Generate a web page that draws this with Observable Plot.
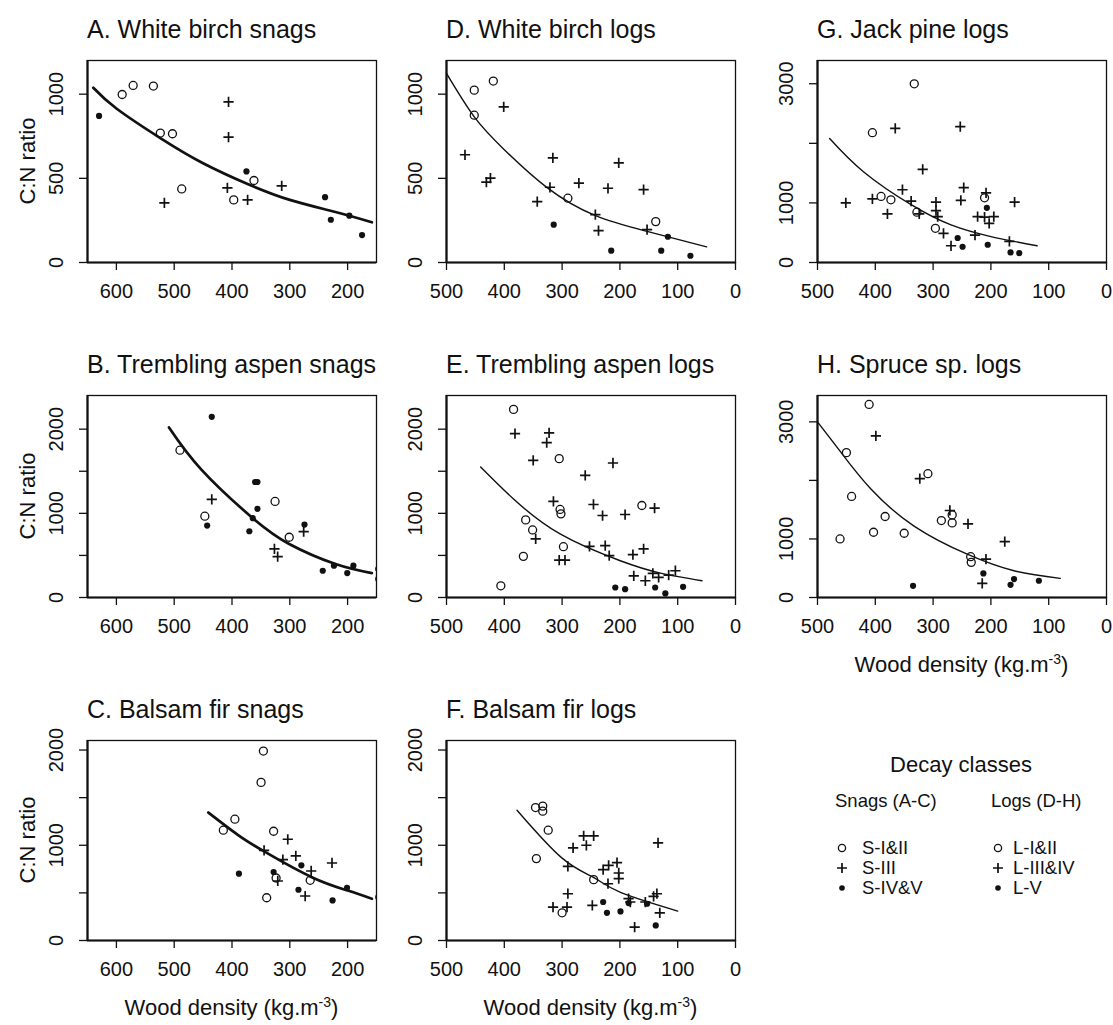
<!DOCTYPE html>
<html><head><meta charset="utf-8">
<script src="https://cdn.jsdelivr.net/npm/d3@7"></script>
<script src="https://cdn.jsdelivr.net/npm/@observablehq/plot@0.6"></script>
<style>
body{margin:0;background:#fff;}
#root{position:relative;width:1113px;height:1025px;background:#fff;font-family:"Liberation Sans",Arial,sans-serif;color:#111;overflow:hidden}
.lbl{position:absolute;white-space:nowrap;line-height:1;}
.panel{position:absolute;}
</style></head><body><div id="root"></div>
<script>
// ---- Data: [wood density (kg/m3), C:N ratio] ----
// A. White birch snags
const A_open = [[590,998],[571,1052],[536,1048],[524,769],[503,765],[487,437],[397,372],[362,487]];
const A_plus = [[517,354],[406,954],[406,745],[408,443],[373,372],[314,455]];
const A_fill = [[630,871],[375,541],[239,388],[229,254],[197,278],[175,163]];
const A_fit  = [[640,1038],[600,915],[522,735],[450,590],[372,465],[300,372],[221,300],[158,239]];
// B. Trembling aspen snags
const B_open = [[490,1750],[447,966],[325.5,1141],[301,716]];
const B_plus = [[435,1165],[326.6,577],[321,485],[276,783]];
const B_fill = [[435,2147],[443,855],[360,1372],[356,1372],[356,1054],[364,942],[370,787],[274.6,867],[243,318],[223.6,378],[200.6,290],[190,378],[147,340],[147,220]];
const B_fit  = [[509,2020],[453,1520],[366,954],[301,636],[221,398],[158,290]];
// C. Balsam fir snags
const C_open = [[345.7,1989],[349.7,1660],[395,1274],[415,1158],[328,1147],[323.7,656],[264.7,632],[340,449]];
const C_plus = [[303.5,1063],[344.5,947],[312,849],[289.6,888],[263,730],[227,814],[320.8,625],[273.4,467]];
const C_fill = [[280,789],[388,702],[328,719],[285,533],[226,421],[201,554],[147,456]];
const C_fit  = [[441,1344],[390,1110],[342.8,930],[262,665],[200,525],[158,439]];
// D. White birch logs
const D_open = [[452,1024],[452,875],[419,1078],[290,382],[138,243]];
const D_plus = [[468,640],[431,477],[424,501],[401,924],[343,362],[316,622],[321,447],[271,471],[242.5,284],[237,189],[220.6,441],[202,592],[159,433],[153,195]];
const D_fill = [[314.5,225],[215,70],[117,153],[128.5,70],[78,40]];
const D_fit  = [[500,1123],[452,865],[400,670],[326,445],[242,278],[153,185],[50,93]];
// E. Trembling aspen logs
const E_open = [[384,2235],[305,1650],[303.5,1046],[302,994],[162,1093],[363,922],[351,803],[367,489],[297.7,604],[406,139]];
const E_plus = [[381.5,1948],[322.5,1956],[326.6,1841],[350,1630],[260,1451],[212,1598],[315,1141],[245.7,1105],[230,974],[191,986],[140,1062],[345.7,696],[305,445],[295,445],[252.6,608],[225.4,616],[218.5,497],[177.5,509],[159,577],[176,258],[156,199],[143,286],[133,239],[115.6,266],[104,318]];
const E_fill = [[208,119],[191,99],[139,119],[121.4,48],[90.7,127]];
const E_fit  = [[441,1551],[384,1170],[303.5,755],[199.4,437],[130,290],[58,199]];
// F. Balsam fir logs
const F_open = [[346,1396],[333.5,1411],[333.5,1358],[324,1158],[344.5,860],[300,291],[245.4,639]];
const F_plus = [[290,779],[281,972],[258,1000],[262.7,1098],[245.4,1098],[290,491],[315.7,351],[291.5,351],[229,744],[219.5,789],[205,818],[220.6,596],[202,709],[202,649],[247.7,368],[185,439],[182,404],[174.5,140],[156,404],[141.7,463],[136,491],[134,1025],[131,291]];
const F_fill = [[229,404],[222.4,291],[199,305],[185,393],[153,386],[138,158]];
const F_fit  = [[378,1368],[300,865],[245,660],[199,505],[100,309]];
// G. Jack pine logs
const G_open = [[405,2178],[332.6,2999],[390,1109],[373,1052],[328,844],[296,574],[211,1086]];
const G_plus = [[451,1002],[365.5,2251],[253,2279],[318,1564],[353,1221],[405,1069],[379,816],[338,1030],[324,816],[295,1013],[295,872],[292,771],[282,490],[269,281],[247,1255],[252,1041],[227.5,461],[223,771],[208.4,1170],[211,760],[203,658],[195,771],[168,355],[159,1013]];
const G_fill = [[257.5,411],[249,264],[207,917],[205.5,298],[166,169],[151,158]];
const G_fit  = [[479,2082],[420,1520],[338,970],[269,630],[200,435],[120,281]];
// H. Spruce sp. logs
const H_open = [[410.7,3297],[450,2474],[441,1726],[461,1000],[403,1114],[383,1383],[350,1097],[309,2114],[285.7,1314],[267,1274],[267,1411],[235,697],[234,600]];
const H_plus = [[399,2760],[323,2029],[271,1486],[239.6,1257],[176,954],[208.5,657],[215,240]];
const H_fill = [[334.7,200],[213,411],[166,217],[160,314],[117,286]];
const H_fit  = [[500,3000],[460,2486],[408,1857],[333,1220],[241,740],[160,457],[80,326]];

// ---- Tick values ----
const xTicksSnag = [600,500,400,300,200];
const xTicksLog = [500,400,300,200,100,0];
const yTicks1200 = [0,500,1000];
const yTicks2400 = [0,500,1000,1500,2000];
const yLabels2400 = [0,1000,2000];
const yTicks3400 = [0,1000,2000,3000];
const yLabels3400 = [0,1000,3000];

const titles = ["A. White birch snags","B. Trembling aspen snags","C. Balsam fir snags",
  "D. White birch logs","E. Trembling aspen logs","F. Balsam fir logs","G. Jack pine logs","H. Spruce sp. logs"];

// ---- Layout (pixels) ----
const colLeft = [87, 446, 817];
const rowTop = [60, 395, 740];
const rowH = [202, 202, 200];
const frameW = 289;

const panels = [
  {t:titles[0], c:0, r:0, xd:[650,150], yd:[0,1200], xt:xTicksSnag, yt:yTicks1200, yl:yTicks1200, d:[A_open,A_plus,A_fill,A_fit], thick:true, ylab:true},
  {t:titles[1], c:0, r:1, xd:[650,150], yd:[0,2400], xt:xTicksSnag, yt:yTicks2400, yl:yLabels2400, d:[B_open,B_plus,B_fill,B_fit], thick:true, ylab:true},
  {t:titles[2], c:0, r:2, xd:[650,150], yd:[0,2100], xt:xTicksSnag, yt:yTicks2400, yl:yLabels2400, d:[C_open,C_plus,C_fill,C_fit], thick:true, ylab:true, xlab:true},
  {t:titles[3], c:1, r:0, xd:[500,0], yd:[0,1200], xt:xTicksLog, yt:yTicks1200, yl:yTicks1200, d:[D_open,D_plus,D_fill,D_fit]},
  {t:titles[4], c:1, r:1, xd:[500,0], yd:[0,2400], xt:xTicksLog, yt:yTicks2400, yl:yLabels2400, d:[E_open,E_plus,E_fill,E_fit]},
  {t:titles[5], c:1, r:2, xd:[500,0], yd:[0,2100], xt:xTicksLog, yt:yTicks2400, yl:yLabels2400, d:[F_open,F_plus,F_fill,F_fit], xlab:true},
  {t:titles[6], c:2, r:0, xd:[500,0], yd:[0,3390], xt:xTicksLog, yt:yTicks3400, yl:yLabels3400, d:[G_open,G_plus,G_fill,G_fit]},
  {t:titles[7], c:2, r:1, xd:[500,0], yd:[0,3450], xt:xTicksLog, yt:yTicks3400, yl:yLabels3400, d:[H_open,H_plus,H_fill,H_fit], xlab:true},
];

const root = document.getElementById("root");
const INK = "#111";
const FONT = '"Liberation Sans", Arial, sans-serif';

function label(text, x, baseline, size, anchor, html) {
  const s = document.createElement("div");
  s.className = "lbl";
  s.style.fontSize = size + "px";
  s.style.left = x + "px";
  s.style.top = (baseline - 0.8465 * size) + "px";
  if (anchor === "middle") s.style.transform = "translateX(-50%)";
  if (html) s.innerHTML = text; else s.textContent = text;
  root.appendChild(s);
  return s;
}

const mL = 80, mR = 16, mT = 6, mB = 46;
const X = d => d[0], Y = d => d[1];

for (const p of panels) {
  const left = colLeft[p.c], top = rowTop[p.r], h = rowH[p.r];
  const [open, plus, fill, fit] = p.d;
  const chart = Plot.plot({
    width: mL + frameW + mR,
    height: mT + h + mB,
    marginLeft: mL, marginRight: mR, marginTop: mT, marginBottom: mB,
    x: {domain: p.xd},
    y: {domain: p.yd},
    style: {fontFamily: FONT, fontSize: "20px", color: INK, background: "transparent", overflow: "visible"},
    marks: [
      Plot.axisX({ticks: p.xt, tickSize: 8, tickPadding: 13, tickFormat: d => String(d), label: null, fontSize: 20, strokeWidth: 1.3}),
      Plot.axisY({ticks: p.yt, tickSize: 8, tickPadding: 17, tickRotate: -90, tickFormat: d => p.yl.includes(d) ? String(d) : "", label: null, fontSize: 20, strokeWidth: 1.3}),
      Plot.frame({stroke: INK, strokeWidth: 1.3}),
      Plot.ruleX([p.xd[0]], {stroke: INK, strokeWidth: 2.2}),
      Plot.ruleY([0], {stroke: INK, strokeWidth: 2.2}),
      Plot.line(fit, {x: X, y: Y, curve: "natural", stroke: INK, strokeWidth: p.thick ? 2.7 : 1.4}),
      Plot.dot(open, {x: X, y: Y, r: 4, stroke: INK, strokeWidth: 1.3, fill: "none", clip: "frame"}),
      Plot.dot(plus, {x: X, y: Y, symbol: "plus", r: 3.4, stroke: INK, strokeWidth: 1.7, clip: "frame"}),
      Plot.dot(fill, {x: X, y: Y, r: 3.1, fill: INK, clip: "frame"})
    ]
  });
  chart.classList.add("panel");
  chart.style.left = (left - mL) + "px";
  chart.style.top = (top - mT) + "px";
  root.appendChild(chart);

  // title
  label(p.t, left, top - 22, 25, "start");
  // y axis title
  if (p.ylab) {
    const s = document.createElement("div");
    s.className = "lbl";
    s.style.fontSize = "22px";
    s.textContent = "C:N ratio";
    s.style.left = "28px";
    s.style.top = (top + h / 2) + "px";
    s.style.transform = "translate(-50%,-50%) rotate(-90deg)";
    root.appendChild(s);
  }
  if (p.xlab) {
    label('Wood density (kg.m<sup style="font-size:14px;vertical-align:8px;line-height:0">-3</sup>)', left + frameW / 2, top + h + 76, 22, "middle", true);
  }
}

// ---- Legend ----
const legendTitle = "Decay classes";
const legendGroups = [
  {head: "Snags (A-C)", items: ["S-I&II", "S-III", "S-IV&V"]},
  {head: "Logs (D-H)", items: ["L-I&II", "L-III&IV", "L-V"]}
];
const legendSymbols = ["open", "plus", "fill"];
label(legendTitle, 961, 773, 22, "middle");
const gx = [835, 991];
const svg = d3.select(root).append("svg").attr("width", 1113).attr("height", 1025)
  .style("position", "absolute").style("left", 0).style("top", 0).style("pointer-events", "none");
legendGroups.forEach((g, gi) => {
  label(g.head, gx[gi], 808, 18.5, "start");
  g.items.forEach((it, ii) => {
    const cy = 848 + ii * 20;
    const sx = gx[gi] + (gi === 0 ? 7 : 7);
    const tx = gx[gi] + (gi === 0 ? 27 : 22);
    label(it, tx, cy + 6.5, 18.5, "start");
    const kind = legendSymbols[ii];
    if (kind === "open") svg.append("circle").attr("cx", sx).attr("cy", cy).attr("r", 3.6).attr("fill", "none").attr("stroke", INK).attr("stroke-width", 1.3);
    else if (kind === "plus") svg.append("path").attr("d", `M${sx-5},${cy}H${sx+5}M${sx},${cy-5}V${cy+5}`).attr("stroke", INK).attr("stroke-width", 1.7);
    else svg.append("circle").attr("cx", sx).attr("cy", cy).attr("r", 2.8).attr("fill", INK);
  });
});
</script>
</body></html>
